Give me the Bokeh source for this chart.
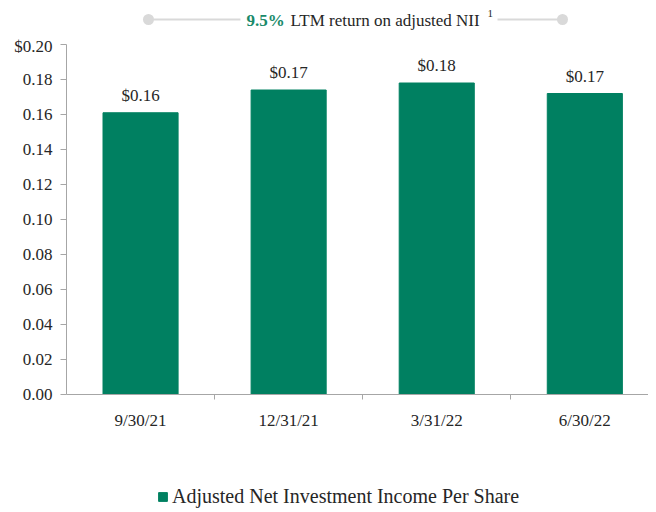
from bokeh.plotting import figure
from bokeh.layouts import column
from bokeh.models import (FixedTicker, Legend, LegendItem, Range1d,
                          PrintfTickFormatter, ColumnDataSource)
from bokeh.core.properties import value
from bokeh.embed import file_html
from bokeh.resources import INLINE

categories = ["9/30/21", "12/31/21", "3/31/22", "6/30/22"]
values = [0.161, 0.174, 0.178, 0.172]
value_labels = ["$0.16", "$0.17", "$0.18", "$0.17"]
y_ticks = [0.0, 0.02, 0.04, 0.06, 0.08, 0.10, 0.12, 0.14, 0.16, 0.18, 0.20]
series_name = "Adjusted Net Investment Income Per Share"
title_highlight = "9.5%"
title_rest = "LTM return on adjusted NII"
title_note = "1"

FONT = "Liberation Serif"
GREEN = "#008061"
TEXT = "#262626"
AXIS = "#a6a6a6"
DOT = "#d9d9d9"
W = 648
LEFT = 66

def bare(fig):
    fig.axis.visible = False
    fig.grid.visible = False
    fig.outline_line_color = None
    return fig

# ---------- header (frame aligned with main chart: x in page pixels) ----------
hdr = bare(figure(width=W, height=36, x_range=Range1d(LEFT, W), y_range=Range1d(0, 36),
                  output_backend="svg", toolbar_location=None,
                  min_border_left=LEFT, min_border_right=0, min_border_top=0, min_border_bottom=0))
hdr.segment(x0=[148, 497], y0=[17, 17], x1=[240, 562], y1=[17, 17],
            line_color=DOT, line_width=2)
hdr.scatter(x=[148, 562], y=[17, 17], size=11, fill_color=DOT, line_color=None)
hdr.text(x=[246], y=[16], text=[title_highlight], text_font=value(FONT), text_font_size="17px",
         text_font_style="bold", text_color="#1a8a6a", text_baseline="middle")
hdr.text(x=[290], y=[16], text=[title_rest], text_font=value(FONT), text_font_size="17px",
         text_color=TEXT, text_baseline="middle")
hdr.text(x=[487], y=[23], text=[title_note], text_font=value(FONT), text_font_size="11px",
         text_color=TEXT, text_baseline="middle")

# ---------- main chart ----------
xs = [i + 0.5 for i in range(len(categories))]
src = ColumnDataSource(dict(x=xs, top=values, lab=value_labels))

p = figure(width=W, height=398, x_range=Range1d(0, 3.93), y_range=Range1d(0, 0.2),
           output_backend="svg", toolbar_location=None,
           min_border_left=LEFT, min_border_right=0, min_border_top=8, min_border_bottom=40)
p.outline_line_color = None
p.xgrid.visible = False
p.ygrid.visible = False

bars = p.vbar(x="x", top="top", width=0.507, bottom=0, source=src,
              fill_color=GREEN, line_color=GREEN)
p.text(x="x", y="top", text="lab", source=src, y_offset=-8,
       text_align="center", text_baseline="bottom",
       text_font=value(FONT), text_font_size="17px", text_color=TEXT)

xa = p.xaxis[0]
xa.ticker = FixedTicker(ticks=xs, minor_ticks=[1, 2, 3])
xa.major_label_overrides = {x: c for x, c in zip(xs, categories)}
xa.major_tick_line_color = None
xa.major_tick_out = 0
xa.major_tick_in = 0
xa.minor_tick_out = 5
xa.minor_tick_in = 0
xa.minor_tick_line_color = AXIS
xa.axis_line_color = AXIS
xa.major_label_standoff = 11
xa.major_label_text_font = FONT
xa.major_label_text_font_size = "17px"
xa.major_label_text_color = TEXT

ya = p.yaxis[0]
ya.ticker = FixedTicker(ticks=y_ticks, minor_ticks=[])
ya.formatter = PrintfTickFormatter(format="%.2f")
ya.major_label_overrides = {0.2: "$0.20"}
ya.major_tick_out = 6
ya.major_tick_in = 0
ya.major_tick_line_color = AXIS
ya.axis_line_color = AXIS
ya.major_label_standoff = 8
ya.major_label_text_font = FONT
ya.major_label_text_font_size = "17px"
ya.major_label_text_color = TEXT

# ---------- footer with legend ----------
# the key renderer shares the bar data but sits below this frame's visible range,
# so only its legend swatch is seen
ftr = bare(figure(width=W, height=76, x_range=Range1d(0, 3.93), y_range=Range1d(1, 77),
                  output_backend="svg", toolbar_location=None,
                  min_border_left=LEFT, min_border_right=0, min_border_top=0, min_border_bottom=0))
key = ftr.vbar(x="x", top="top", width=0.507, bottom=0, source=src,
               fill_color=GREEN, line_color=GREEN)
legend = Legend(items=[LegendItem(label=series_name, renderers=[key])],
                location=(91, 2), orientation="horizontal",
                label_text_font=FONT, label_text_font_size="20px", label_text_color=TEXT,
                glyph_width=11, glyph_height=11, padding=0, margin=0, spacing=0,
                label_standoff=4, border_line_color=None, background_fill_alpha=0)
ftr.add_layout(legend)

open("out.html", "w").write(file_html(column(hdr, p, ftr, spacing=0), INLINE))
